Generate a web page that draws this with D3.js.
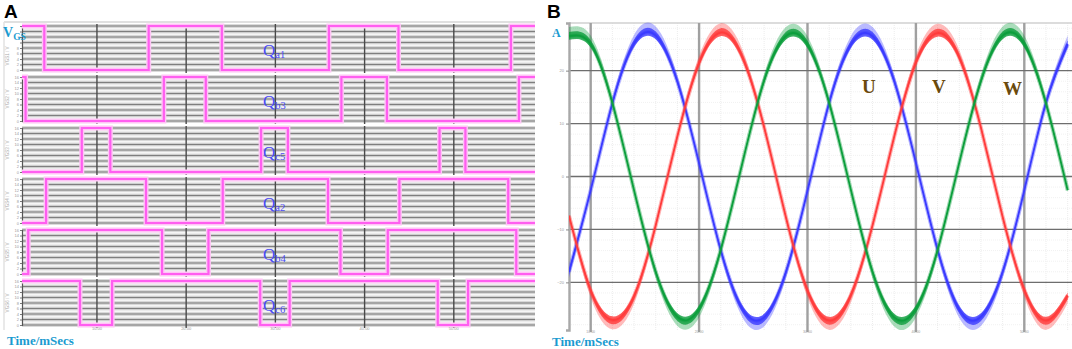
<!DOCTYPE html>
<html>
<head>
<meta charset="utf-8">
<script src="https://cdn.jsdelivr.net/npm/d3@7"></script>
<style>
body{margin:0;background:#fff;}
svg{display:block;font-family:'Liberation Serif','Times New Roman',serif;}
</style>
</head>
<body>
<svg id="chart" width="1072" height="349"></svg>
<script>
// panel A : gate signals (time in ms)
var gateNames = [['a','1'],['b','3'],['c','5'],['a','2'],['b','4'],['c','6']];
var gateStart = [1, 1, 0, 0, 0, 1];
var gateEdges = [
	[4.1, 15.8, 24.0, 36.0, 43.8, 56.4],
	[2.0, 17.5, 22.2, 37.4, 42.5, 57.3],
	[8.3, 11.5, 28.4, 31.4, 48.4, 51.3],
	[4.3, 15.5, 24.1, 35.9, 43.9, 56.1],
	[2.3, 17.3, 22.5, 37.3, 42.6, 57.0],
	[8.1, 11.7, 28.3, 31.6, 48.2, 51.6]
];
var gateLevels = [0, 16];
var gateTicks = [0, 2, 4, 6, 8, 10, 12, 14, 16];
var timeDomainA = [1.6, 59.1];
var timeTicksA = [10, 20, 30, 40, 50];

// panel B : phase currents (A) sampled every 2 ms
var timeB = [8,10,12,14,16,18,20,22,24,26,28,30,32,34,36,38,40,42,44,46,48,50,52,54];
var currentU = [-18.0,-2.6,13.8,25.1,26.6,17.9,2.5,-13.9,-25.0,-26.6,-18.1,-2.7,13.9,24.9,26.5,18.0,2.6,-13.8,-25.1,-26.5,-18.0,-2.6,13.9,25.0];
var currentV = [-7.4,-21.5,-27.1,-22.6,-9.2,7.6,21.4,27.2,22.5,9.3,-7.6,-21.5,-27.2,-22.4,-9.2,7.5,21.5,27.1,22.5,9.2,-7.6,-21.4,-27.2,-22.5];
var currentW = [26.5,25.0,13.9,-2.6,-18.0,-26.5,-25.0,-13.8,2.6,18.1,26.5,24.9,13.9,-2.5,-18.0,-26.6,-25.0,-13.9,2.6,18.0,26.6,25.0,13.8,-2.6];
var phaseNames = ['U', 'V', 'W'];
var timeDomainB = [8, 54.4];
var timeTicksB = [10, 20, 30, 40, 50];
var ampTicks = [-20, -10, 0, 10, 20];

var svg = d3.select('#chart');

// ---------------- panel A ----------------
var gA = svg.append('g');

gA.append('text').attr('x', 4).attr('y', 18)
	.style('font-family', "'Liberation Sans', Arial, sans-serif")
	.style('font-weight', 'bold').style('font-size', '19px').text('A');

gA.append('line').attr('x1', 4).attr('x2', 535).attr('y1', 22).attr('y2', 22)
	.style('stroke', '#d6d6d6').style('stroke-width', 1.5);
gA.append('line').attr('x1', 4).attr('x2', 4).attr('y1', 22).attr('y2', 330)
	.style('stroke', '#e2e2e2').style('stroke-width', 1.5);

var xA = d3.scaleLinear().domain(timeDomainA).range([22, 535]);

var rowTop = 25, rowPitch = 51, rowH = 46;

gateEdges.forEach(function(edges, i){
	var top = rowTop + i*rowPitch;
	var y = d3.scaleLinear().domain([0, 16]).range([top + rowH - 1, top + 1]);
	var row = gA.append('g');

	row.append('rect').attr('x', 22).attr('y', top).attr('width', 513).attr('height', rowH)
		.style('fill', '#f6f6f6');

	// horizontal stripes
	row.selectAll('.halo').data(gateTicks).enter().append('line')
		.attr('x1', 22).attr('x2', 535)
		.attr('y1', function(d){ return y(d); }).attr('y2', function(d){ return y(d); })
		.style('stroke', '#cfcfcf').style('stroke-width', 3.6);
	row.selectAll('.grid').data(gateTicks).enter().append('line')
		.attr('x1', 22).attr('x2', 535)
		.attr('y1', function(d){ return y(d); }).attr('y2', function(d){ return y(d); })
		.style('stroke', '#7f7f7f').style('stroke-width', 1.2);

	// vertical grid
	row.selectAll('.vg').data(timeTicksA).enter().append('line')
		.attr('x1', function(d){ return xA(d); }).attr('x2', function(d){ return xA(d); })
		.attr('y1', top - 1).attr('y2', top + rowH + 2)
		.style('stroke', '#4a4a4a').style('stroke-width', 1.4);

	// left axis (first row keeps room for the V_GS label)
	var shown = i == 0 ? gateTicks.filter(function(d){ return d < 10; }) : gateTicks;
	var ax = d3.axisLeft(y).tickValues(gateTicks).tickSize(2).tickPadding(1)
		.tickFormat(function(d){ return shown.indexOf(d) >= 0 ? d : ''; });
	var axg = row.append('g').attr('transform', 'translate(22,0)').call(ax);
	axg.select('.domain').style('stroke', '#555').style('stroke-width', 1.2);
	axg.selectAll('.tick line').style('stroke', '#777');
	axg.selectAll('.tick text').style('font-size', '4px').style('fill', '#999')
		.style('font-family', "'Liberation Sans', Arial, sans-serif");

	row.append('text')
		.attr('transform', 'translate(9,' + (top + rowH/2 + (i == 0 ? 8 : 0)) + ') rotate(-90)')
		.attr('text-anchor', 'middle')
		.style('font-size', '4.5px').style('fill', '#aaa')
		.style('font-family', "'Liberation Sans', Arial, sans-serif")
		.text('VGS' + (i+1) + ' / V');

	// step waveform
	var pts = [[timeDomainA[0], gateLevels[gateStart[i]]]];
	var s = gateStart[i];
	edges.forEach(function(e){
		s = 1 - s;
		pts.push([e, gateLevels[s]]);
	});
	pts.push([timeDomainA[1], gateLevels[s]]);

	var step = d3.line()
		.x(function(d){ return xA(d[0]); })
		.y(function(d){ return y(d[1]); })
		.curve(d3.curveStepAfter);

	row.append('path').attr('d', step(pts))
		.style('fill', 'none').style('stroke', '#ffc4f6').style('stroke-width', 5);
	row.append('path').attr('d', step(pts))
		.style('fill', 'none').style('stroke', '#ff5ef0').style('stroke-width', 2.2);

	// label
	var lab = row.append('text').attr('x', 263).attr('y', top + 31)
		.style('fill', '#4b4bf5').style('font-size', '17px');
	lab.append('tspan').text('Q');
	lab.append('tspan').attr('dy', 2).style('font-size', '10.5px').text(gateNames[i][0] + gateNames[i][1]);
});

// bottom time labels
gA.selectAll('.tl').data(timeTicksA).enter().append('text')
	.attr('x', function(d){ return xA(d); }).attr('y', 330)
	.attr('text-anchor', 'middle')
	.style('font-size', '4px').style('fill', '#999')
	.style('font-family', "'Liberation Sans', Arial, sans-serif")
	.text(function(d){ return d3.format('.2f')(d); });

var vgs = gA.append('text').attr('x', 3).attr('y', 37)
	.style('fill', '#1a9bd0').style('font-weight', 'bold').style('font-size', '14px');
vgs.append('tspan').text('V');
vgs.append('tspan').attr('dy', 3).style('font-size', '9.5px').text('GS');

gA.append('text').attr('x', 7).attr('y', 345)
	.style('fill', '#1a9bd0').style('font-weight', 'bold').style('font-size', '13px')
	.text('Time/mSecs');

// ---------------- panel B ----------------
var gB = svg.append('g');

gB.append('text').attr('x', 547).attr('y', 18)
	.style('font-family', "'Liberation Sans', Arial, sans-serif")
	.style('font-weight', 'bold').style('font-size', '19px').text('B');

var xB = d3.scaleLinear().domain(timeDomainB).range([569, 1072]);
var yB = d3.scaleLinear().domain([-29, 29]).range([330, 23]);

// minor grid
gB.selectAll('.mv').data(d3.range(8, 55, 2)).enter().append('line')
	.attr('x1', function(d){ return xB(d); }).attr('x2', function(d){ return xB(d); })
	.attr('y1', 23).attr('y2', 330)
	.style('stroke', '#ececec').style('stroke-width', 1).style('stroke-dasharray', '1,1');
gB.selectAll('.mh').data(d3.range(-28, 29, 2)).enter().append('line')
	.attr('x1', 569).attr('x2', 1072)
	.attr('y1', function(d){ return yB(d); }).attr('y2', function(d){ return yB(d); })
	.style('stroke', '#f1f1f1').style('stroke-width', 1).style('stroke-dasharray', '1,1');

gB.append('line').attr('x1', 569).attr('x2', 1072).attr('y1', 23).attr('y2', 23)
	.style('stroke', '#d0d0d0').style('stroke-width', 1.5);

// major grid
gB.selectAll('.vg').data(timeTicksB).enter().append('line')
	.attr('x1', function(d){ return xB(d); }).attr('x2', function(d){ return xB(d); })
	.attr('y1', 23).attr('y2', 332)
	.style('stroke', '#a0a0a0').style('stroke-width', 2.4);
gB.selectAll('.hg').data(ampTicks).enter().append('line')
	.attr('x1', 569).attr('x2', 1072)
	.attr('y1', function(d){ return yB(d); }).attr('y2', function(d){ return yB(d); })
	.style('stroke', '#6e6e6e').style('stroke-width', 1.3);

var axB = gB.append('g').attr('transform', 'translate(569,0)')
	.call(d3.axisLeft(yB).tickValues(ampTicks).tickSize(3).tickPadding(2));
axB.select('.domain').style('stroke', '#a8a8a8').style('stroke-width', 2.4);
axB.selectAll('.tick line').style('stroke', '#888');
axB.selectAll('.tick text').style('font-size', '4px').style('fill', '#999')
	.style('font-family', "'Liberation Sans', Arial, sans-serif");

gB.selectAll('.tb').data(timeTicksB).enter().append('text')
	.attr('x', function(d){ return xB(d); }).attr('y', 333)
	.attr('text-anchor', 'middle')
	.style('font-size', '3.5px').style('fill', '#999')
	.style('font-family', "'Liberation Sans', Arial, sans-serif")
	.text(function(d){ return d3.format('.2f')(d); });

// currents
var series = [
	{name: 'U', values: currentU, color: '#3a3aff'},
	{name: 'V', values: currentV, color: '#ff3b3b'},
	{name: 'W', values: currentW, color: '#0c9e3c'}
];

var clip = svg.append('defs').append('clipPath').attr('id', 'clipB');
clip.append('rect').attr('x', 569).attr('y', 15).attr('width', 503).attr('height', 320);

var waves = gB.append('g').attr('clip-path', 'url(#clipB)');

series.forEach(function(s){
	var pts = timeB.map(function(t, i){ return [t, s.values[i]]; });
	var outer = d3.area()
		.x(function(d){ return xB(d[0]); })
		.y0(function(d){ return yB(d[1]); })
		.y1(function(d){ return yB(d[1]*1.065); })
		.curve(d3.curveNatural);
	var inner = d3.area()
		.x(function(d){ return xB(d[0]); })
		.y0(function(d){ return yB(d[1]*0.975); })
		.y1(function(d){ return yB(d[1]*1.03); })
		.curve(d3.curveNatural);
	var mid = d3.line()
		.x(function(d){ return xB(d[0]); })
		.y(function(d){ return yB(d[1]); })
		.curve(d3.curveNatural);

	waves.append('path').attr('d', outer(pts))
		.style('fill', s.color).style('opacity', 0.35);
	waves.append('path').attr('d', inner(pts))
		.style('fill', s.color).style('opacity', 0.8);
	waves.append('path').attr('d', mid(pts))
		.style('fill', 'none').style('stroke', s.color).style('stroke-opacity', 0.4).style('stroke-width', 4);
	waves.append('path').attr('d', mid(pts))
		.style('fill', 'none').style('stroke', s.color).style('stroke-width', 1.8);
});

// phase labels
var labX = [862, 932, 1003];
phaseNames.forEach(function(n, i){
	gB.append('text').attr('x', labX[i]).attr('y', i == 2 ? 95 : 93)
		.style('fill', '#6b4a0c').style('font-weight', 'bold').style('font-size', '19px')
		.text(n);
});

gB.append('text').attr('x', 552).attr('y', 37)
	.style('fill', '#1a9bd0').style('font-weight', 'bold').style('font-size', '12px').text('A');

gB.append('text').attr('x', 552).attr('y', 346)
	.style('fill', '#1a9bd0').style('font-weight', 'bold').style('font-size', '13px')
	.text('Time/mSecs');
</script>
</body>
</html>
